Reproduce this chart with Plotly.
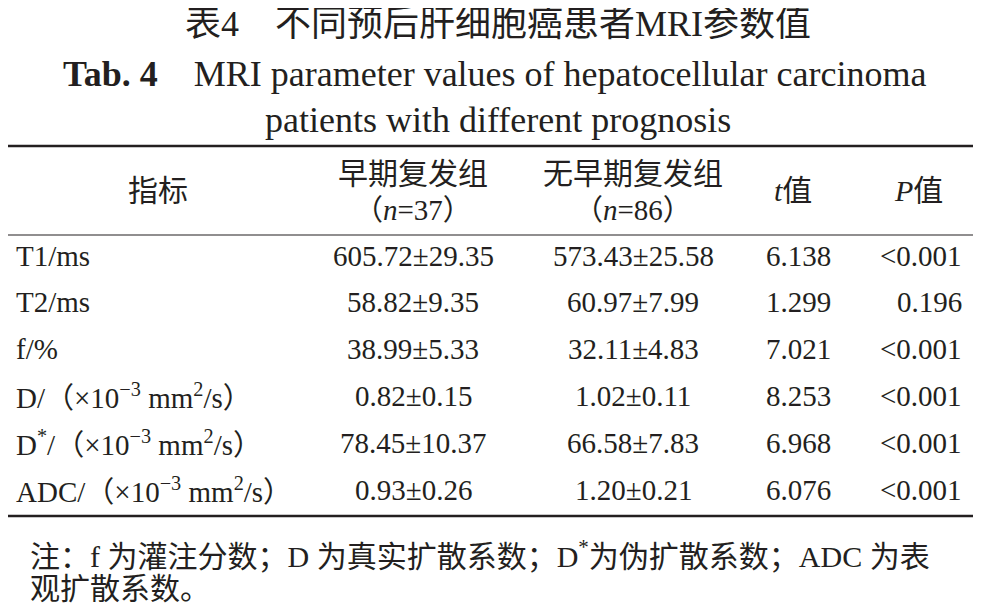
import plotly.graph_objects as go

W, H = 981, 608

indicators = ["T1/ms", "T2/ms", "f/%", "D/（×10<sup>−3</sup> mm<sup>2</sup>/s）",
              "D<sup>*</sup>/（×10<sup>−3</sup> mm<sup>2</sup>/s）",
              "ADC/（×10<sup>−3</sup> mm<sup>2</sup>/s）"]
early = ["605.72±29.35", "58.82±9.35", "38.99±5.33", "0.82±0.15", "78.45±10.37", "0.93±0.26"]
no_early = ["573.43±25.58", "60.97±7.99", "32.11±4.83", "1.02±0.11", "66.58±7.83", "1.20±0.21"]
t_vals = ["6.138", "1.299", "7.021", "8.253", "6.968", "6.076"]
p_vals = ["<0.001", "0.196", "<0.001", "<0.001", "<0.001", "<0.001"]

FONT = "Liberation Serif, Noto Sans CJK SC"
row_y = [256, 302, 349, 396, 443, 490]
DX, DY = -8, -8  # rendering offset correction

fig = go.Figure()
fig.add_trace(go.Scatter(x=[0, W], y=[0, H], mode="markers", marker=dict(opacity=0), hoverinfo="skip"))

def txt(x, y, s, size=29, anchor="center"):
    fig.add_annotation(x=x + DX, y=y + DY, text=s, showarrow=False, xanchor=anchor, yanchor="middle",
                       font=dict(family=FONT, size=size, color="#231f20"))

# titles
txt(498, 24, "表4　不同预后肝细胞癌患者MRI参数值", 36)
txt(494, 74, "<b>Tab. 4</b>    MRI parameter values of hepatocellular carcinoma", 36)
txt(498, 120, "patients with different prognosis", 36)

# header
txt(158, 190, "指标", 30)
txt(413, 173, "早期复发组", 30)
txt(413, 210, "（<i>n</i>=37）", 29)
txt(633, 173, "无早期复发组", 30)
txt(633, 210, "（<i>n</i>=86）", 29)
txt(793, 190, "<i>t</i>值", 30)
txt(918, 190, "<i>P</i>值", 30)

for i, y in enumerate(row_y):
    txt(14, y, indicators[i], anchor="left")
    txt(413, y, early[i])
    txt(633, y, no_early[i])
    txt(798, y, t_vals[i])
    txt(964, y, p_vals[i], anchor="right")

# note
txt(28, 554, "注：f 为灌注分数；D 为真实扩散系数；D<sup>*</sup>为伪扩散系数；ADC 为表", 30, anchor="left")
txt(28, 588, "观扩散系数。", 30, anchor="left")

for y, w in [(146, 2.5), (235, 1.2), (516, 2.5)]:
    fig.add_shape(type="line", x0=0, x1=W, y0=y + DY, y1=y + DY, line=dict(color="#231f20", width=w))

fig.update_xaxes(range=[0, W], visible=False, fixedrange=True)
fig.update_yaxes(range=[H, 0], visible=False, fixedrange=True)
fig.update_layout(width=W, height=H, margin=dict(l=0, r=0, t=0, b=0),
                  plot_bgcolor="white", paper_bgcolor="white", showlegend=False)
fig.write_html("out.html")
